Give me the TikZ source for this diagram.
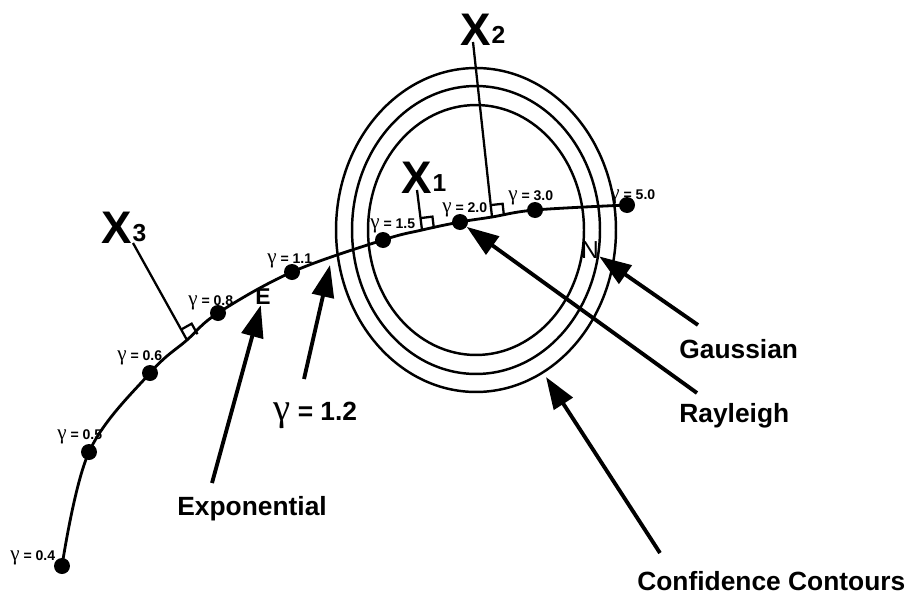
\documentclass[tikz,border=0pt]{standalone}
\usepackage{fontspec}
\setmainfont{Liberation Sans}
\newfontfamily\grkfont{Liberation Serif}
\usetikzlibrary{arrows.meta, calc}

\newcommand{\gam}[1]{{\grkfont\mdseries\fontsize{#1}{#1}\selectfont γ}}
\newcommand{\gm}[1]{{\bfseries\fontsize{8}{8}\selectfont\gam{12} = #1}}
\newcommand{\xsub}[1]{{\fontsize{14}{14}\selectfont\kern0.5pt\raisebox{1pt}{#1}}}
\newcommand{\sqmark}[2]{\draw[axisline] ($(#1)!0.24cm!(#2)$) -- ($(#1)!0.24cm!(#2)!0.24cm!-90:(#2)$) -- ($(#1)!0.24cm!-90:(#2)$);}

\begin{document}
\begin{tikzpicture}[x=0.02cm, y=-0.02cm,
    dot/.style={circle, fill=black, inner sep=0pt, minimum size=3.2mm},
    curve/.style={line width=1.6pt},
    ring/.style={line width=1.4pt},
    axisline/.style={line width=1.3pt},
    pointer/.style={line width=2.2pt, -{Triangle[length=6.4mm, width=4.4mm]}},
    gl/.style={anchor=base west, inner sep=0pt},
    xlab/.style={anchor=base west, inner sep=0pt, font=\bfseries\fontsize{26}{26}\selectfont},
    tag/.style={inner sep=0pt, font=\bfseries\fontsize{13}{13}\selectfont},
    big/.style={anchor=base west, inner sep=0pt, font=\bfseries\fontsize{15}{18}\selectfont}]
  \useasboundingbox (0,0) rectangle (908,595);

  % confidence contours
  \coordinate (ctr) at (476,230);
  \draw[ring] (ctr) ellipse [x radius=2.80cm, y radius=3.24cm];
  \draw[ring] (ctr) ellipse [x radius=2.48cm, y radius=2.88cm];
  \draw[ring] (ctr) ellipse [x radius=2.16cm, y radius=2.50cm];

  % the gamma curve
  \node[dot] (g04) at (62,566) {};
  \node[dot] (g05) at (89,452) {};
  \node[dot] (g06) at (150,373) {};
  \node[dot] (g08) at (218,313) {};
  \node[dot] (g11) at (292,272) {};
  \node[dot] (g15) at (383,240) {};
  \node[dot] (g20) at (460,222) {};
  \node[dot] (g30) at (535,210) {};
  \node[dot] (g50) at (627,205) {};
  \coordinate (x3f) at (187,340);
  \coordinate (x1f) at (422,230);
  \coordinate (x2f) at (492,217);
  \draw[curve] plot[smooth, tension=0.6] coordinates {(g04.center) (g05.center) (g06.center) (x3f)
    (g08.center) (g11.center) (g15.center) (x1f) (g20.center) (x2f) (g30.center) (g50.center)};

  \node[gl] (l04) at (10,560) {\gm{0.4}};
  \node[gl] (l05) at (57,439) {\gm{0.5}};
  \node[gl] (l06) at (117,360) {\gm{0.6}};
  \node[gl] (l08) at (188,305) {\gm{0.8}};
  \node[gl] (l11) at (267,263) {\gm{1.1}};
  \node[gl] (l15) at (370,228) {\gm{1.5}};
  \node[gl] (l20) at (442,212) {\gm{2.0}};
  \node[gl] (l30) at (508,200) {\gm{3.0}};
  \node[gl] (l50) at (610,199) {\gm{5.0}};

  % axes
  \node[xlab] (x3) at (101,243) {X\xsub{3}};
  \node[xlab] (x1) at (401,193) {X\xsub{1}};
  \node[xlab] (x2) at (460,45) {X\xsub{2}};
  \coordinate (x3t) at (133,243);
  \coordinate (x1t) at (417,190);
  \coordinate (x2t) at (473,42);
  \draw[axisline] (x3f) -- (x3t);
  \draw[axisline] (x1f) -- (x1t);
  \draw[axisline] (x2f) -- (x2t);
  \sqmark{x3f}{x3t}
  \sqmark{x1f}{x1t}
  \sqmark{x2f}{x2t}

  % marks and pointers
  \node[tag] (emark) at (263,297) {E};
  \node[tag, font=\fontsize{14}{14}\selectfont] (nmark) at (590,250) {N};
  \coordinate (g12) at (330,265);
  \coordinate (cc) at (546,377);

  \node[big] (exp) at (177,515) {Exponential};
  \node[big] (l12) at (273,420) {\gam{22} = 1.2};
  \node[big] (gau) at (679,358) {Gaussian};
  \node[big] (ray) at (679,422) {Rayleigh};
  \node[big] (conf) at (637,590) {Confidence Contours};
  \coordinate (expT) at (212,483);
  \coordinate (l12T) at (304,379);
  \coordinate (gauT) at (698,325);
  \coordinate (rayT) at (697,393);
  \coordinate (confT) at (660,553);
  \draw[pointer] (expT) -- (emark);
  \draw[pointer] (l12T) -- (g12);
  \draw[pointer] (gauT) -- (nmark);
  \draw[pointer] (rayT) -- (g20);
  \draw[pointer] (confT) -- (cc);
\end{tikzpicture}
\end{document}
